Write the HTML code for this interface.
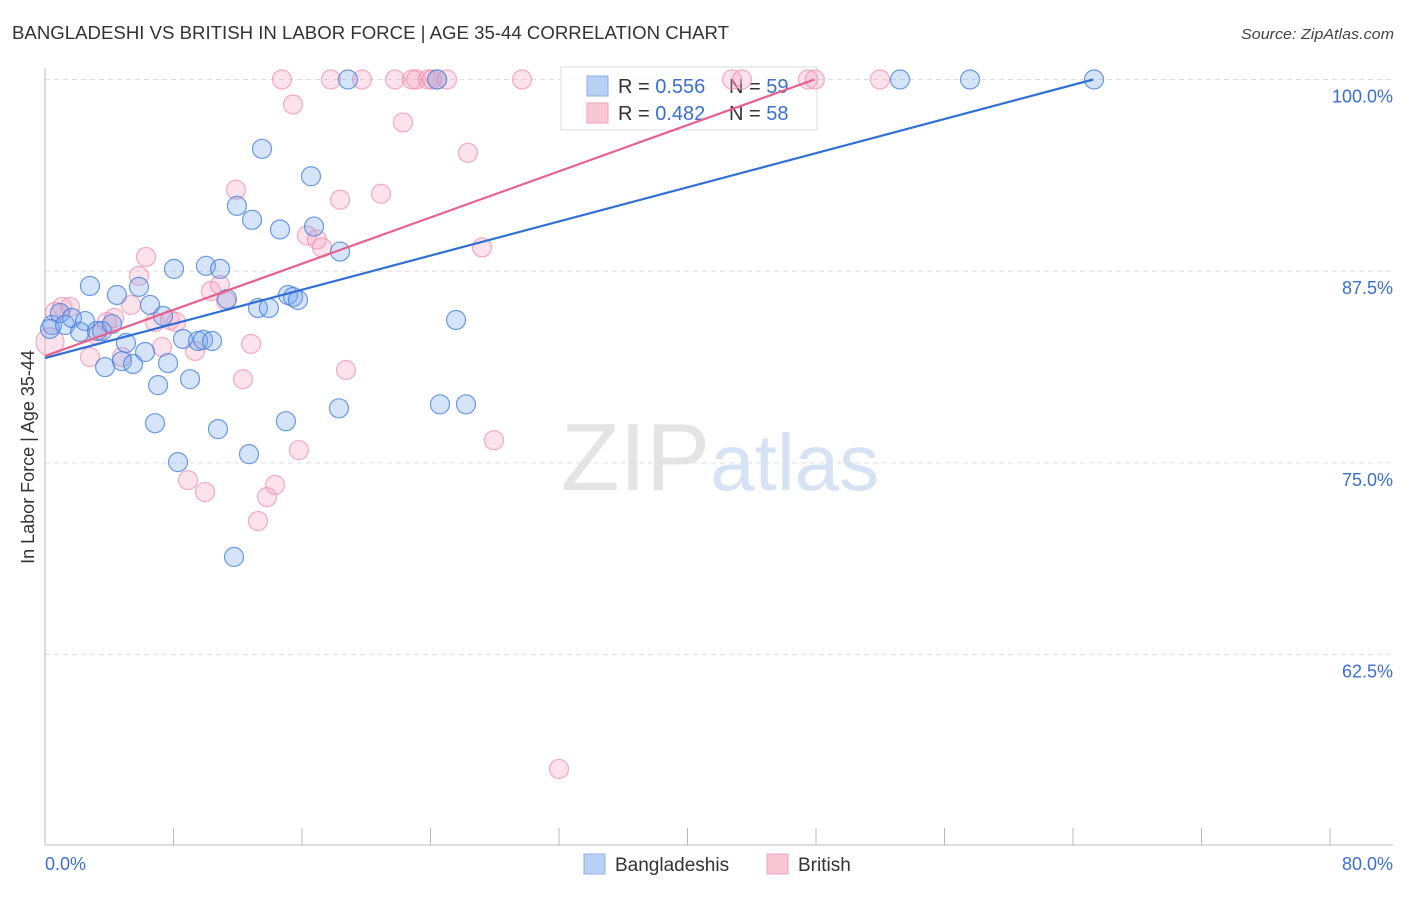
<!DOCTYPE html>
<html><head><meta charset="utf-8"><style>
body{margin:0;background:#fff;font-family:"Liberation Sans",sans-serif}
svg text{font-family:"Liberation Sans",sans-serif}
</style></head><body>
<svg id="chart" width="1406" height="892" viewBox="0 0 1406 892" xmlns="http://www.w3.org/2000/svg">
<text x="12" y="39" font-size="18" fill="#333" textLength="717" lengthAdjust="spacingAndGlyphs">BANGLADESHI VS BRITISH IN LABOR FORCE | AGE 35-44 CORRELATION CHART</text>
<text x="1394" y="39" font-size="15" fill="#444" text-anchor="end" font-style="italic" textLength="153" lengthAdjust="spacingAndGlyphs">Source: ZipAtlas.com</text>
<text x="720" y="490" font-size="96" text-anchor="middle" fill="#e4e4e4" font-family="Liberation Serif">ZIP<tspan fill="#d6e3f5" font-family="Liberation Sans" font-size="80">atlas</tspan></text>
<g id="grid"></g>
<g id="axes"></g>
<g>
<rect x="561" y="67" width="256" height="63" fill="rgba(255,255,255,0.85)" stroke="#ddd"/>
<rect x="587" y="76" width="21" height="20" fill="#b7d0f3" stroke="#8fb0e6"/>
<text x="618" y="93" font-size="20" fill="#333">R = <tspan fill="#3a6fd0">0.556</tspan></text>
<text x="729" y="93" font-size="20" fill="#333">N = <tspan fill="#3a6fd0">59</tspan></text>
<rect x="587" y="103" width="21" height="20" fill="#f8c6d5" stroke="#eea4bb"/>
<text x="618" y="120" font-size="20" fill="#333">R = <tspan fill="#3a6fd0">0.482</tspan></text>
<text x="729" y="120" font-size="20" fill="#333">N = <tspan fill="#3a6fd0">58</tspan></text>
</g>
<g id="pts"></g>
<g id="trend"></g>
<text transform="translate(34,457) rotate(-90)" font-size="18" fill="#333" text-anchor="middle">In Labor Force | Age 35-44</text>
<g>
<rect x="584" y="854" width="21" height="20" fill="#b7d0f3" stroke="#8fb0e6"/>
<text x="615" y="871" font-size="19" fill="#333">Bangladeshis</text>
<rect x="767" y="854" width="21" height="20" fill="#f8c6d5" stroke="#eea4bb"/>
<text x="798" y="871" font-size="19" fill="#333">British</text>
</g>
</svg>
<script>
const xTicks=[0,8,16,24,32,40,48,56,64,72,80];
const yTicks=[62.5,75,87.5,100];
const yTickLabels=["62.5%","75.0%","87.5%","100.0%"];
const blueX=[0.44,0.31,0.93,1.25,1.68,2.49,2.18,2.8,3.24,3.74,3.55,4.17,4.48,4.79,5.04,5.48,5.85,6.23,6.54,6.85,7.04,7.35,7.66,8.03,8.28,8.59,9.03,9.53,9.84,10.02,10.4,10.77,10.9,11.33,11.77,11.95,12.7,12.89,13.26,13.51,13.94,14.63,15.0,15.13,15.44,15.75,16.56,16.75,18.3,18.37,18.86,24.41,24.59,25.59,26.21,53.23,57.59,65.31];
const blueY=[83.99,83.73,84.77,83.99,84.45,84.25,83.54,86.54,83.6,81.25,83.6,84.06,85.95,81.64,82.82,81.45,86.48,82.23,85.3,77.59,80.07,84.58,81.51,87.65,75.05,83.08,80.46,82.95,83.02,87.85,82.95,77.2,87.65,85.69,68.87,91.76,75.57,90.85,85.1,95.48,85.1,90.22,77.72,85.95,85.82,85.62,93.69,90.41,78.56,88.78,100,100,78.82,84.32,78.82,100,100,100];
const pinkX=[0.31,0.62,1.07,1.56,2.8,3.24,3.86,4.3,4.79,5.35,5.85,6.29,6.85,7.29,7.78,8.16,8.9,9.34,9.96,10.33,10.9,11.27,11.89,12.33,12.83,13.26,13.82,14.32,14.75,15.44,15.81,16.31,16.93,17.24,17.8,18.37,18.74,19.74,20.92,21.79,22.29,22.85,23.1,23.84,24.09,24.41,25.03,26.33,27.21,27.95,29.7,32.0,42.77,43.39,47.5,47.93,51.98];
const pinkY=[82.89,84.84,85.17,85.17,81.9,83.34,84.19,84.45,81.9,85.3,87.19,88.43,84.19,82.56,84.32,84.19,73.88,82.3,73.1,86.21,86.6,85.56,92.81,80.46,82.76,71.21,72.77,73.56,100,98.37,75.83,89.83,89.57,89.05,100,92.16,81.06,100,92.55,100,97.2,100,100,100,100,100,100,95.22,89.05,76.48,100,55.04,100,100,100,100,100];
const blueTrend=[81.84,0.2783];
const pinkTrend=[81.97,0.3764];
const NS="http://www.w3.org/2000/svg";
const X0=45,X1=1330,YTOP=79.5,PXPER=191.7/12.5;
function sx(v){return X0+(v-xTicks[0])/(xTicks[xTicks.length-1]-xTicks[0])*(X1-X0);}
function sy(v){return YTOP+(100-v)*PXPER;}
function mk(t,a,p){const e=document.createElementNS(NS,t);for(const k in a)e.setAttribute(k,a[k]);p.appendChild(e);return e;}
const grid=document.getElementById('grid'),axes=document.getElementById('axes'),pts=document.getElementById('pts'),trend=document.getElementById('trend');
yTicks.forEach((t,i)=>{
 const l=mk('line',{x1:X0,x2:1393,y1:sy(t),y2:sy(t),stroke:'#ddd','stroke-dasharray':'5,4'},grid);
 
 
 const tx=mk('text',{x:1393,y:sy(t)+23,'font-size':18,fill:'#3a6fd0','text-anchor':'end'},axes);
 tx.textContent=yTickLabels[i];
 
 
});
const ax=mk('line',{x1:X0,x2:X0,y1:68,y2:845,stroke:'#bbb'},axes);


const bx=mk('line',{x1:X0,x2:1393,y1:845,y2:845,stroke:'#bbb'},axes);


xTicks.forEach(t=>{
 const l=mk('line',{x1:sx(t),x2:sx(t),y1:828,y2:845,stroke:'#bbb'},axes);
 
 
});
const xl0=mk('text',{x:45,y:870,'font-size':18,fill:'#3a6fd0'},axes);xl0.textContent=xTicks[0].toFixed(1)+'%';


const xl1=mk('text',{x:1393,y:870,'font-size':18,fill:'#3a6fd0','text-anchor':'end'},axes);xl1.textContent=xTicks[xTicks.length-1].toFixed(1)+'%';


pinkX.forEach((x,i)=>{
 const c=mk('circle',{cx:sx(x),cy:sy(pinkY[i]),r:i===0?14:9.5,fill:'rgba(244,160,188,0.3)',stroke:'rgba(236,140,170,0.7)','stroke-width':1.2},pts);
 
 
});
blueX.forEach((x,i)=>{
 const c=mk('circle',{cx:sx(x),cy:sy(blueY[i]),r:9.5,fill:'rgba(120,165,235,0.3)',stroke:'rgba(70,130,225,0.8)','stroke-width':1.2},pts);
 
 
});
function tl(tr,xe,col,name){
 const l=mk('line',{x1:sx(0),y1:sy(tr[0]),x2:sx(xe),y2:sy(tr[0]+tr[1]*xe),stroke:col,'stroke-width':2.2},trend);
 
 
}
tl(blueTrend,(100-blueTrend[0])/blueTrend[1],'#2f6fd6','bangladeshi-trend-line');
tl(pinkTrend,(100-pinkTrend[0])/pinkTrend[1],'#e8608c','british-trend-line');
</script>
</body></html>
